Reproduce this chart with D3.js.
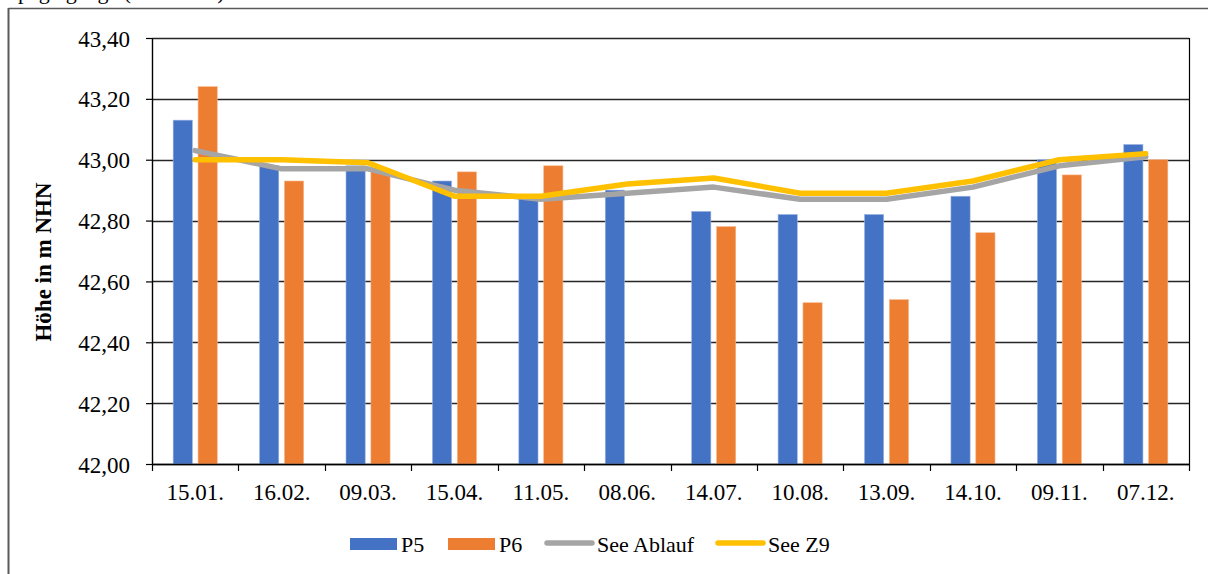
<!DOCTYPE html>
<html><head><meta charset="utf-8">
<script src="https://cdn.jsdelivr.net/npm/d3@7"></script>
<style>
html,body{margin:0;padding:0;background:#fff;}
svg{display:block;font-family:"Liberation Serif","Times New Roman",serif;}
</style></head>
<body>
<svg id="c" width="1208" height="574"></svg>
<script>
const categories = ["15.01.","16.02.","09.03.","15.04.","11.05.","08.06.","14.07.","10.08.","13.09.","14.10.","09.11.","07.12."];
const p5 = [43.13,42.98,42.98,42.93,42.88,42.90,42.83,42.82,42.82,42.88,43.00,43.05];
const p6 = [43.24,42.93,42.97,42.96,42.98,null,42.78,42.53,42.54,42.76,42.95,43.00];
const seeAblauf = [43.03,42.97,42.97,42.90,42.87,42.89,42.91,42.87,42.87,42.91,42.98,43.01];
const seeZ9 = [43.00,43.00,42.99,42.88,42.88,42.92,42.94,42.89,42.89,42.93,43.00,43.02];
const yTicks = [42.0,42.2,42.4,42.6,42.8,43.0,43.2,43.4];
const yTitle = "Höhe in m NHN";
const legendItems = [
  {name:"P5", type:"bar", color:"#4472C4"},
  {name:"P6", type:"bar", color:"#ED7D31"},
  {name:"See Ablauf", type:"line", color:"#A5A5A5"},
  {name:"See Z9", type:"line", color:"#FFC000"}
];

const FF = "Liberation Serif, Times New Roman, serif";
const svg = d3.select("#c");
const L = 152, R = 1189, T = 38, B = 464;
const fmt = v => d3.format(".2f")(v).replace(".", ",");

// outer frame
svg.append("line").attr("x1",8.5).attr("x2",1208).attr("y1",8.5).attr("y2",8.5).attr("stroke","#5a5a5a").attr("stroke-width",1.5);
svg.append("line").attr("x1",8.5).attr("x2",8.5).attr("y1",8).attr("y2",574).attr("stroke","#5a5a5a").attr("stroke-width",2);
// clipped heading fragment above the frame (only its lower edge is visible, as in the reference)
svg.append("text").attr("x",18).attr("y",-1).attr("font-size",22).attr("font-family",FF).attr("fill","#000").text("pegelgänge (Jahr 2019)");

const x = d3.scaleBand().domain(categories).range([L,R]).padding(0);
const y = d3.scaleLinear().domain([42.0,43.4]).range([B,T]);

// grid
svg.append("g").selectAll("line").data(yTicks).join("line")
  .attr("x1",L).attr("x2",R)
  .attr("y1",d=>Math.round(y(d))+0.5).attr("y2",d=>Math.round(y(d))+0.5)
  .attr("stroke","#262626").attr("stroke-width",1.4);

// bars
const bw = x.bandwidth()*0.222, gap = x.bandwidth()*0.066;
const cx = d => x(d)+x.bandwidth()/2;
const g = svg.append("g");
g.selectAll("rect.p5").data(categories.map((c,i)=>({c,v:p5[i]})).filter(d=>d.v!=null)).join("rect")
  .attr("x",d=>cx(d.c)-gap/2-bw).attr("width",bw)
  .attr("y",d=>y(d.v)).attr("height",d=>B-y(d.v))
  .attr("fill","#4472C4").attr("stroke","#9bb3e0").attr("stroke-width",0.6);
g.selectAll("rect.p6").data(categories.map((c,i)=>({c,v:p6[i]})).filter(d=>d.v!=null)).join("rect")
  .attr("x",d=>cx(d.c)+gap/2).attr("width",bw)
  .attr("y",d=>y(d.v)).attr("height",d=>B-y(d.v))
  .attr("fill","#ED7D31").attr("stroke","#f5b58a").attr("stroke-width",0.6);

// lines
const line = d3.line().x((d,i)=>cx(categories[i])).y(d=>y(d));
svg.append("path").datum(seeAblauf).attr("d",line).attr("fill","none").attr("stroke","#A5A5A5").attr("stroke-width",5.5).attr("stroke-linejoin","round").attr("stroke-linecap","round");
svg.append("path").datum(seeZ9).attr("d",line).attr("fill","none").attr("stroke","#FFC000").attr("stroke-width",5.5).attr("stroke-linejoin","round").attr("stroke-linecap","round");

// axes
const yAxis = svg.append("g").attr("transform",`translate(${L},0)`)
  .call(d3.axisLeft(y).tickValues(yTicks).tickFormat(fmt).tickSize(6).tickSizeOuter(0));
yAxis.select(".domain").attr("stroke","#000").attr("stroke-width",1.4);
yAxis.selectAll(".tick line").attr("stroke","#000").attr("stroke-width",1.2);
yAxis.selectAll(".tick text").attr("x",-22).attr("dy","0.35em").attr("font-size",23).attr("font-family",FF).attr("fill","#000");

const xAxis = svg.append("g").attr("transform",`translate(0,${B})`)
  .call(d3.axisBottom(x).tickSize(0).tickSizeOuter(0));
xAxis.select(".domain").attr("stroke","#000").attr("stroke-width",1.4);
xAxis.selectAll(".tick text").attr("y",36).attr("dy",0).attr("font-size",23).attr("font-family",FF).attr("fill","#000");
// category boundary ticks
svg.append("g").selectAll("line").data(categories.concat(["__end"])).join("line")
  .attr("x1",(d,i)=>i<categories.length?Math.round(x(d))+0.5:R+0.5)
  .attr("x2",(d,i)=>i<categories.length?Math.round(x(d))+0.5:R+0.5)
  .attr("y1",B).attr("y2",B+7).attr("stroke","#000").attr("stroke-width",1.2);
// right border
svg.append("line").attr("x1",R+0.5).attr("x2",R+0.5).attr("y1",T).attr("y2",B).attr("stroke","#000").attr("stroke-width",1.2);

// y title
svg.append("text").attr("transform",`translate(51,262) rotate(-90)`)
  .attr("text-anchor","middle").attr("font-size",23).attr("font-family",FF).attr("font-weight","bold").attr("fill","#000").text(yTitle);

// legend
const lx = [350,448,545,716];
const lg = svg.append("g");
legendItems.forEach((it,i)=>{
  if(it.type==="bar"){
    lg.append("rect").attr("x",lx[i]).attr("y",538).attr("width",47).attr("height",12).attr("fill",it.color);
    lg.append("text").attr("x",lx[i]+51).attr("y",552).attr("font-size",22).attr("font-family",FF).attr("fill","#000").text(it.name);
  } else {
    lg.append("line").attr("x1",lx[i]+2).attr("x2",lx[i]+47).attr("y1",543).attr("y2",543).attr("stroke",it.color).attr("stroke-width",5.5).attr("stroke-linecap","round");
    lg.append("text").attr("x",lx[i]+52).attr("y",552).attr("font-size",22).attr("font-family",FF).attr("fill","#000").text(it.name);
  }
});
</script>
</body></html>
